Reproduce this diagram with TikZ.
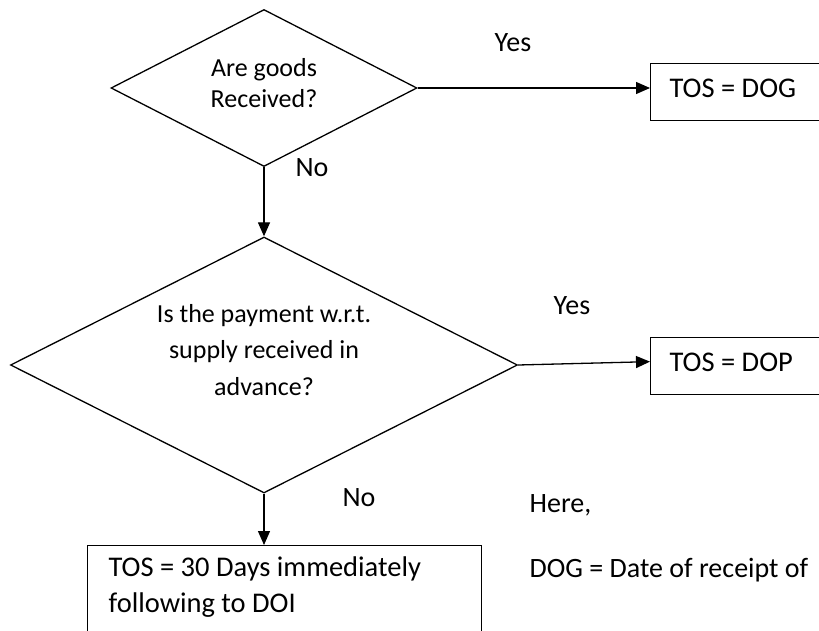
\documentclass[tikz,border=0pt]{standalone}
\usepackage{fontspec}
\setmainfont{Carlito}
\usetikzlibrary{shapes.geometric,arrows.meta}
\begin{document}
\begin{tikzpicture}[x=1pt,y=-1pt,
  line width=1.3pt,
  decision/.style={draw, diamond, inner sep=0pt},
  qtext/.style={align=center, inner sep=0pt, font=\fontsize{26}{31}\selectfont},
  outbox/.style={draw, rectangle, anchor=north west, align=flush left, inner xsep=19pt,
    font=\fontsize{28.5}{36}\selectfont},
  lbl/.style={inner sep=0pt, font=\fontsize{28}{34}\selectfont},
  arr/.style={-{Triangle[length=14pt,width=12pt]}}]
\path[use as bounding box, clip] (0,0) rectangle (819,631);

% decisions
\node[decision, minimum width=306pt, minimum height=157pt] (d1) at (264,88) {};
\node[qtext] (q1) at (264,83) {Are goods\\Received?};
\node[decision, minimum width=507pt, minimum height=256pt] (d2) at (264,365) {};
\node[qtext, font=\fontsize{26}{36.5}\selectfont] (q2) at (264,350) {Is the payment w.r.t.\\supply received in\\advance?};

% outcomes (run past the right and bottom edges)
\node[outbox, text width=222pt, minimum height=57pt, text height=18pt, text depth=7pt] (b1) at (650,63) {TOS = DOG};
\node[outbox, text width=222pt, minimum height=57pt, text height=18pt, text depth=7pt] (b2) at (650,337) {TOS = DOP};
\node[outbox, inner xsep=21pt, inner ysep=11pt, text width=352pt, text height=20pt, text depth=140pt] (b3) at (87,545)
  {TOS = 30 Days immediately\\following to DOI};

% connectors
\draw[arr] (d1.east) -- (d1.east -| b1.west);
\draw[arr] (d2.east) -- ([yshift=4.5pt]b2.west);
\draw[arr] (d1.south) -- (d2.north);
\draw[arr] (d2.south) -- (d2.south |- b3.north);

% branch labels
\node[lbl] (y1) at (513,43) {Yes};
\node[lbl] (n1) at (312,168) {No};
\node[lbl] (y2) at (572,306) {Yes};
\node[lbl] (n2) at (359,498) {No};

% legend
\node[lbl, anchor=base west] (here) at (529,512) {Here,};
\node[lbl, anchor=base west] (dog) at (529,577) {DOG = Date of receipt of};
\end{tikzpicture}
\end{document}
